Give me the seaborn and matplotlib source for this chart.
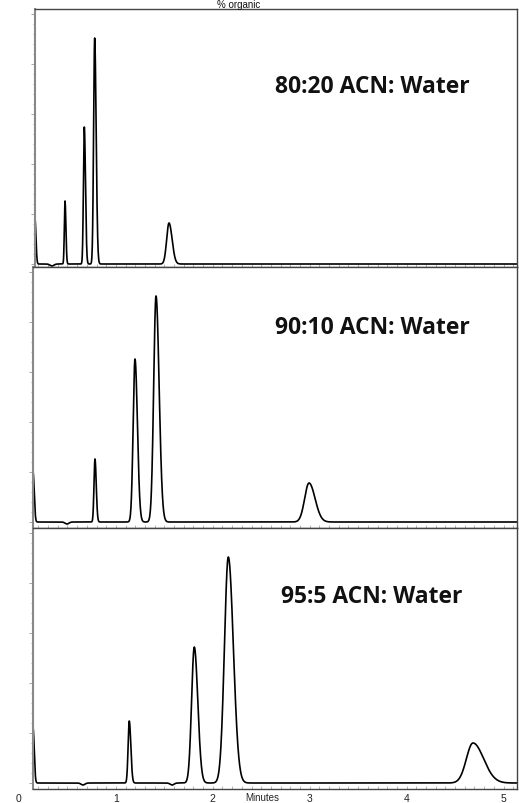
import numpy as np
import pandas as pd
import matplotlib
matplotlib.use('Agg')
import matplotlib.pyplot as plt
import seaborn as sns
from matplotlib.ticker import MultipleLocator

sns.set_style('white')
plt.rcParams['font.family'] = ['Liberation Sans', 'DejaVu Sans']

# peak tables (time in minutes, height in detector units)
labels = ['80:20 ACN: Water', '90:10 ACN: Water', '95:5 ACN: Water']

top_times = [0.165, 0.34, 0.475, 0.674, 0.781, 1.548]
top_heights = [45, -2, 63, 137, 226, 41]
top_sig_l = [0.002, 0.02, 0.007, 0.009, 0.011, 0.024]
top_sig_r = [0.010, 0.02, 0.009, 0.012, 0.015, 0.032]

mid_times = [0.145, 0.495, 0.784, 1.197, 1.414, 2.993]
mid_heights = [50, -2, 63, 163, 226, 39]
mid_sig_l = [0.002, 0.02, 0.010, 0.019, 0.024, 0.045]
mid_sig_r = [0.012, 0.02, 0.013, 0.025, 0.032, 0.062]

bot_times = [0.145, 0.66, 1.58, 1.138, 1.809, 2.160, 4.685]
bot_heights = [55, -2, -2, 62, 136, 226, 40]
bot_sig_l = [0.002, 0.02, 0.02, 0.012, 0.028, 0.040, 0.068]
bot_sig_r = [0.012, 0.02, 0.02, 0.016, 0.036, 0.052, 0.110]

minute_ticks = [0, 1, 2, 3, 4, 5]


def trace(times, heights, sig_l, sig_r, t):
    y = np.zeros_like(t)
    for tr, h, sl, sr in zip(times, heights, sig_l, sig_r):
        s = np.where(t < tr, sl, sr)
        y += h * np.exp(-0.5 * ((t - tr) / s) ** 2)
    return y


W, H = 519, 804
fig = plt.figure(figsize=(W / 100, H / 100), dpi=100)

# panel boxes in pixels: left, top, right, bottom
boxes = [(35, 10, 517, 268), (33, 268, 517, 529), (33, 529, 517, 790)]
ylims = [(-3, 255), (-6, 255), (-6, 255)]
peaks = [(top_times, top_heights, top_sig_l, top_sig_r),
         (mid_times, mid_heights, mid_sig_l, mid_sig_r),
         (bot_times, bot_heights, bot_sig_l, bot_sig_r)]
label_y = [87, 328, 597]

px0, px_per_min = 19, 96.9

for i in range(3):
    l, tp, r, b = boxes[i]
    ax = fig.add_axes([l / W, 1 - b / H, (r - l) / W, (b - tp) / H])
    x0 = (l - px0) / px_per_min
    x1 = (r - px0) / px_per_min
    t = np.linspace(x0, x1, 4000)
    df = pd.DataFrame({'time': t, 'signal': trace(*peaks[i], t)})
    sns.lineplot(data=df, x='time', y='signal', ax=ax, color='black', linewidth=1.2)
    ax.set_xlim(x0, x1)
    ax.set_ylim(*ylims[i])
    ax.set_xlabel('')
    ax.set_ylabel('')
    for side in ['top', 'right', 'bottom']:
        ax.spines[side].set_color('#444444')
        ax.spines[side].set_linewidth(1.0)
    ax.spines['left'].set_color('#888888')
    ax.spines['left'].set_linewidth(1.5)
    ax.yaxis.set_major_locator(MultipleLocator(50))
    ax.yaxis.set_minor_locator(MultipleLocator(10))
    ax.xaxis.set_major_locator(MultipleLocator(0.5))
    ax.xaxis.set_minor_locator(MultipleLocator(0.1))
    ax.tick_params(axis='y', which='both', left=True, direction='out', color='#999999',
                   labelleft=False, length=3, width=0.6)
    ax.tick_params(axis='y', which='minor', length=1.5)
    ax.tick_params(axis='x', which='both', bottom=True, direction='in', color='#aaaaaa',
                   labelbottom=False, length=2, width=0.6)
    fig.text(372 / W, 1 - label_y[i] / H, labels[i], ha='center', va='center',
             fontsize=16.5, fontweight='bold', family=['Open Sans', 'DejaVu Sans'], color='#111111')

# strip axis carrying the minute labels
lab = fig.add_axes([0, 1 - 790 / H, 1, 0.0001])
lab.set_xlim(-px0 / px_per_min, (W - px0) / px_per_min)
lab.set_xticks(minute_ticks)
lab.set_xticklabels([str(m) for m in minute_ticks])
lab.tick_params(axis='x', length=0, pad=3, labelsize=7.5, labelcolor='#222222')
lab.set_yticks([])
for s in lab.spines.values():
    s.set_visible(False)
lab.patch.set_alpha(0)

fig.text(262 / W, 1 - 793 / H, 'Minutes', ha='center', va='top', fontsize=7, color='#222222')
fig.text(239 / W, 1 - 0.5 / H, '% organic', ha='center', va='top', fontsize=7, color='#111111')

fig.savefig('out.png', dpi=100)
